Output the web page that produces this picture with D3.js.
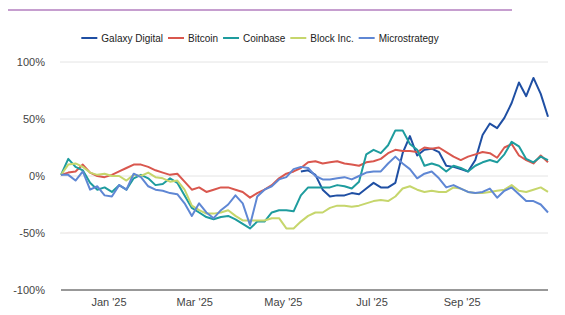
<!DOCTYPE html>
<html>
<head>
<meta charset="utf-8">
<script src="https://cdn.jsdelivr.net/npm/d3@7"></script>
<style>
  body { margin: 0; background: #fff; }
  text { font-family: Arial, "Liberation Sans", sans-serif; }
</style>
</head>
<body>
<div id="chart"></div>
<script>
// dates: every 5 days from start
const startDate = '2024-11-29';
const stepDays = 5;

const seriesNames = ['Galaxy Digital', 'Bitcoin', 'Coinbase', 'Block Inc.', 'Microstrategy'];
const seriesColors = ['#1f4fa3', '#d9574e', '#1e9c9e', '#c6d66c', '#5f87d4'];

// % change since start
const galaxy = [
  null, null, null, null, null, null, null, null, null, null,
  null, null, null, null, null, null, null, null, null, null,
  null, null, null, null, null, null, null, null, null, null,
  null, null, null,
  4, 5, 1, -12, -18, -17, -17, -15, -16, -11,
  -6, -10, -10, -6, 20, 35, 18, 23, 24, 21,
  9, 8, 6, 4, 14, 36, 46, 42, 51, 64,
  82, 70, 86, 72, 52
];
const bitcoin = [
  1, 3, 4, 10, 3, 0, -1, 1, 4, 7,
  10, 10, 8, 5, 3, 1, 2, -5, -12, -10,
  -14, -12, -10, -10, -12, -14, -19, -15, -12, -8,
  -2, 2, 4, 7, 12, 13, 11, 12, 13, 11,
  10, 9, 12, 13, 15, 20, 23, 22, 22, 21,
  25, 24, 25, 21, 17, 14, 17, 19, 21, 20,
  16, 25, 28, 18, 14, 11, 18, 12
];
const coinbase = [
  1, 15, 8, 5, -6, -12, -10, -14, -8, -12,
  -2, 1, -2, -8, -7, -2, -6, -17, -28, -32,
  -36, -38, -36, -35, -38, -42, -46, -40, -40, -32,
  -30, -30, -31, -17, -10, -10, -10, -10, -8, -9,
  -11, -5, 19, 23, 20, 27, 40, 40, 28, 23,
  9, 11, 9, 4, 9, 7, 4, 9, 12, 14,
  12, 19, 30, 26, 15, 12, 17, 14
];
const block = [
  1, 10, 11, 8, 3, 1, 2, 0, 0, -4,
  1, 0, 3, -1, -2, -5, -4, -12, -26, -30,
  -33, -33, -32, -30, -35, -39, -39, -39, -39, -37,
  -37, -46, -46, -40, -35, -32, -32, -28, -26, -26,
  -27, -26, -24, -22, -21, -22, -18, -11, -9, -12,
  -14, -13, -14, -14, -10, -11, -14, -15, -15, -14,
  -13, -12, -8, -13, -14, -12, -10, -14
];
const mstr = [
  1, 1, -4, 4, -12, -9, -17, -18, -8, -12,
  2, -1, -9, -12, -13, -15, -16, -24, -35, -24,
  -32, -37, -30, -25, -17, -24, -43, -18, -12, -9,
  -3, -1, 6, 8, 7, 0, -3, -3, -2, -1,
  -3, 0, 3, 4, 4, 11, 17, 11, 6, -2,
  2, 4, -2, -10, -8, -11, -14, -15, -14, -11,
  -19, -13, -10, -16, -22, -22, -25, -32
];

const yTicks = [-100, -50, 0, 50, 100];
const xTicks = ['2025-01-01', '2025-03-01', '2025-05-01', '2025-07-01', '2025-09-01'];

const width = 565, height = 315;
const margin = { left: 61, right: 17, top: 62, bottom: 25 };

const svg = d3.select('#chart').append('svg')
  .attr('width', width)
  .attr('height', height);

svg.append('rect').attr('width', width).attr('height', height).attr('fill', '#fff');

// purple rule at the top
svg.append('line')
  .attr('x1', 8).attr('x2', 512)
  .attr('y1', 10).attr('y2', 10)
  .attr('stroke', '#8e3ea0')
  .attr('stroke-width', 1.2);

const parse = d3.timeParse('%Y-%m-%d');
const start = parse(startDate);
const allSeries = [galaxy, bitcoin, coinbase, block, mstr];
const dates = d3.range(bitcoin.length).map(i => d3.timeDay.offset(start, i * stepDays));

const x = d3.scaleTime()
  .domain(d3.extent(dates))
  .range([margin.left, width - margin.right]);

const y = d3.scaleLinear()
  .domain([-100, 100])
  .range([height - margin.bottom, margin.top]);

// gridlines
svg.append('g')
  .selectAll('line')
  .data(yTicks.filter(d => d !== -100))
  .join('line')
  .attr('x1', margin.left - 1).attr('x2', width - margin.right)
  .attr('y1', d => y(d)).attr('y2', d => y(d))
  .attr('stroke', '#e4e4e4')
  .attr('stroke-width', 1);

// y labels
svg.append('g')
  .selectAll('text')
  .data(yTicks)
  .join('text')
  .attr('x', 45)
  .attr('y', d => y(d) + 4)
  .attr('text-anchor', 'end')
  .attr('font-size', 11)
  .attr('fill', '#444')
  .text(d => d + '%');

// baseline
svg.append('line')
  .attr('x1', margin.left).attr('x2', width - margin.right)
  .attr('y1', y(-100)).attr('y2', y(-100))
  .attr('stroke', '#333')
  .attr('stroke-width', 1);

// x labels
const fmt = d3.timeFormat("%b '%y");
svg.append('g')
  .selectAll('text')
  .data(xTicks.map(parse))
  .join('text')
  .attr('x', d => x(d))
  .attr('y', height - 9)
  .attr('text-anchor', 'middle')
  .attr('font-size', 11)
  .attr('fill', '#444')
  .text(d => fmt(d));

// lines
const line = d3.line()
  .defined(d => d.v !== null)
  .x(d => x(d.date))
  .y(d => y(d.v));

allSeries.forEach((vals, k) => {
  const pts = vals.map((v, i) => ({ date: dates[i], v: v }));
  svg.append('path')
    .datum(pts)
    .attr('fill', 'none')
    .attr('stroke', seriesColors[k])
    .attr('stroke-width', 2)
    .attr('stroke-linejoin', 'round')
    .attr('d', line);
});

// legend
const legend = svg.append('g');
let cx = 0;
seriesNames.forEach((name, k) => {
  const g = legend.append('g').attr('transform', `translate(${cx},0)`);
  g.append('line')
    .attr('x1', 0).attr('x2', 16)
    .attr('y1', 0).attr('y2', 0)
    .attr('stroke', seriesColors[k])
    .attr('stroke-width', 2);
  const t = g.append('text')
    .attr('x', 20)
    .attr('y', 3.5)
    .attr('font-size', 10)
    .attr('fill', '#222')
    .text(name);
  cx += 20 + t.node().getComputedTextLength() + 5;
});
const legendWidth = cx - 5;
legend.attr('transform', `translate(${260 - legendWidth / 2},38)`);
</script>
</body>
</html>
